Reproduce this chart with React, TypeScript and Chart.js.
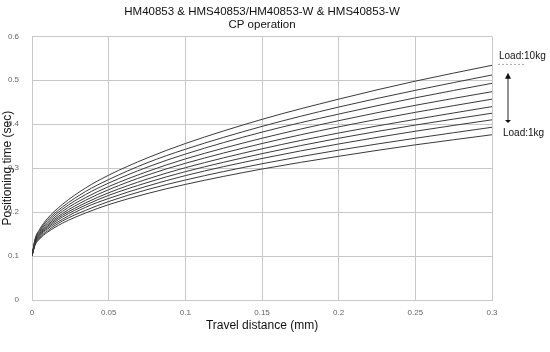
import React, { useEffect, useRef } from "react";
import { Chart, registerables } from "chart.js";

Chart.register(...registerables);

const titleLines = ["HM40853 & HMS40853/HM40853-W & HMS40853-W", "CP operation"];
const xTitle = "Travel distance (mm)";
const yTitle = "Positioning time (sec)";
const topLabel = "Load:10kg";
const bottomLabel = "Load:1kg";

const travel = [0, 0.002, 0.005, 0.01, 0.02, 0.035, 0.05, 0.075, 0.1, 0.15, 0.2, 0.25, 0.3];

const load1 = [0.1, 0.125, 0.139, 0.154, 0.175, 0.198, 0.217, 0.242, 0.263, 0.298, 0.327, 0.353, 0.376];
const load2 = [0.1, 0.126, 0.141, 0.157, 0.18, 0.204, 0.224, 0.251, 0.273, 0.31, 0.341, 0.368, 0.393];
const load3 = [0.1, 0.128, 0.143, 0.161, 0.184, 0.211, 0.231, 0.259, 0.283, 0.322, 0.355, 0.384, 0.41];
const load4 = [0.1, 0.129, 0.146, 0.164, 0.189, 0.216, 0.238, 0.267, 0.292, 0.333, 0.368, 0.398, 0.425];
const load5 = [0.1, 0.131, 0.148, 0.167, 0.193, 0.221, 0.244, 0.275, 0.301, 0.344, 0.38, 0.411, 0.44];
const load6 = [0.1, 0.132, 0.15, 0.17, 0.197, 0.227, 0.251, 0.284, 0.311, 0.356, 0.394, 0.427, 0.457];
const load7 = [0.1, 0.134, 0.152, 0.173, 0.202, 0.233, 0.258, 0.292, 0.321, 0.368, 0.408, 0.443, 0.474];
const load8 = [0.1, 0.136, 0.155, 0.177, 0.207, 0.24, 0.266, 0.302, 0.332, 0.382, 0.423, 0.46, 0.493];
const load9 = [0.1, 0.137, 0.158, 0.181, 0.212, 0.247, 0.274, 0.312, 0.343, 0.395, 0.439, 0.477, 0.512];
const load10 = [0.1, 0.139, 0.161, 0.185, 0.218, 0.255, 0.284, 0.323, 0.356, 0.411, 0.457, 0.498, 0.534];

const loads = [load1, load2, load3, load4, load5, load6, load7, load8, load9, load10];
const loadNames = ["1kg", "2kg", "3kg", "4kg", "5kg", "6kg", "7kg", "8kg", "9kg", "10kg"];

const FONT = "'Liberation Sans', Arial, sans-serif";

const fmt = (v: any) => String(Number(Number(v).toFixed(3)));

const annotationPlugin = {
  id: "loadAnnotation",
  afterDraw(chart: any) {
    const ctx = chart.ctx;
    const area = chart.chartArea;
    const ys = chart.scales.y;
    const x0 = area.right;
    ctx.save();
    ctx.font = `10px ${FONT}`;
    ctx.fillStyle = "#111";
    ctx.textBaseline = "middle";
    ctx.textAlign = "left";
    ctx.fillText(topLabel, x0 + 7, ys.getPixelForValue(0.555));
    ctx.fillText(bottomLabel, x0 + 11, ys.getPixelForValue(0.38));

    ctx.strokeStyle = "#aaa";
    ctx.lineWidth = 1;
    ctx.setLineDash([2, 2]);
    const yd = ys.getPixelForValue(0.536);
    ctx.beginPath();
    ctx.moveTo(x0 + 6, yd);
    ctx.lineTo(x0 + 32, yd);
    ctx.stroke();
    ctx.setLineDash([]);

    const ax = x0 + 16;
    const yTop = ys.getPixelForValue(0.515);
    const yBot = ys.getPixelForValue(0.405);
    ctx.strokeStyle = "#222";
    ctx.beginPath();
    ctx.moveTo(ax, yTop + 3);
    ctx.lineTo(ax, yBot - 2);
    ctx.stroke();
    ctx.fillStyle = "#111";
    ctx.beginPath();
    ctx.moveTo(ax, yTop - 1);
    ctx.lineTo(ax - 3, yTop + 5);
    ctx.lineTo(ax + 3, yTop + 5);
    ctx.closePath();
    ctx.fill();
    ctx.beginPath();
    ctx.moveTo(ax, yBot + 1);
    ctx.lineTo(ax - 3, yBot - 2);
    ctx.lineTo(ax + 3, yBot - 2);
    ctx.closePath();
    ctx.fill();
    ctx.restore();
  },
};

export default function App() {
  const ref = useRef<HTMLCanvasElement | null>(null);
  useEffect(() => {
    if (!ref.current) return;
    const chart = new Chart(ref.current, {
      type: "line",
      data: {
        datasets: loads.map((vals, i) => ({
          label: loadNames[i],
          data: travel.map((x, j) => ({ x, y: vals[j] })),
          borderColor: "#3a3a3a",
          borderWidth: 1,
          pointRadius: 0,
          fill: false,
          cubicInterpolationMode: "monotone" as const,
        })),
      },
      options: {
        animation: false,
        responsive: true,
        maintainAspectRatio: false,
        layout: { padding: { left: 0, right: 58, top: 4, bottom: 19 } },
        plugins: {
          legend: { display: false },
          tooltip: { enabled: false },
          title: {
            display: true,
            text: titleLines,
            fullSize: false,
            color: "#111",
            font: { family: FONT, size: 11.5, weight: "normal", lineHeight: 1.1 },
            padding: { top: 2, bottom: 5 },
          },
        },
        scales: {
          x: {
            type: "linear",
            min: 0,
            max: 0.3,
            ticks: {
              stepSize: 0.05,
              color: "#666",
              font: { family: FONT, size: 8 },
              padding: 8,
              maxRotation: 0,
              callback: (v: any) => fmt(v),
            },
            grid: { color: "#c8c8c8", drawTicks: false },
            border: { color: "#c8c8c8" },
            title: {
              display: true,
              text: xTitle,
              color: "#111",
              font: { family: FONT, size: 12 },
              padding: { top: -7, bottom: 0 },
            },
          },
          y: {
            min: 0,
            max: 0.6,
            afterFit: (s: any) => {
              s.width = 32;
            },
            ticks: {
              stepSize: 0.1,
              color: "#666",
              font: { family: FONT, size: 8 },
              padding: 13,
              callback: (v: any) => fmt(v),
            },
            grid: { color: "#c8c8c8", drawTicks: false },
            border: { color: "#c8c8c8" },
            title: {
              display: true,
              text: yTitle,
              color: "#111",
              font: { family: FONT, size: 12 },
              padding: { top: 0, bottom: 0 },
            },
          },
        },
      },
      plugins: [annotationPlugin],
    });
    return () => chart.destroy();
  }, []);
  return (
    <div style={{ position: "fixed", left: 0, top: 0, width: 550, height: 352 }}>
      <canvas ref={ref} />
    </div>
  );
}
